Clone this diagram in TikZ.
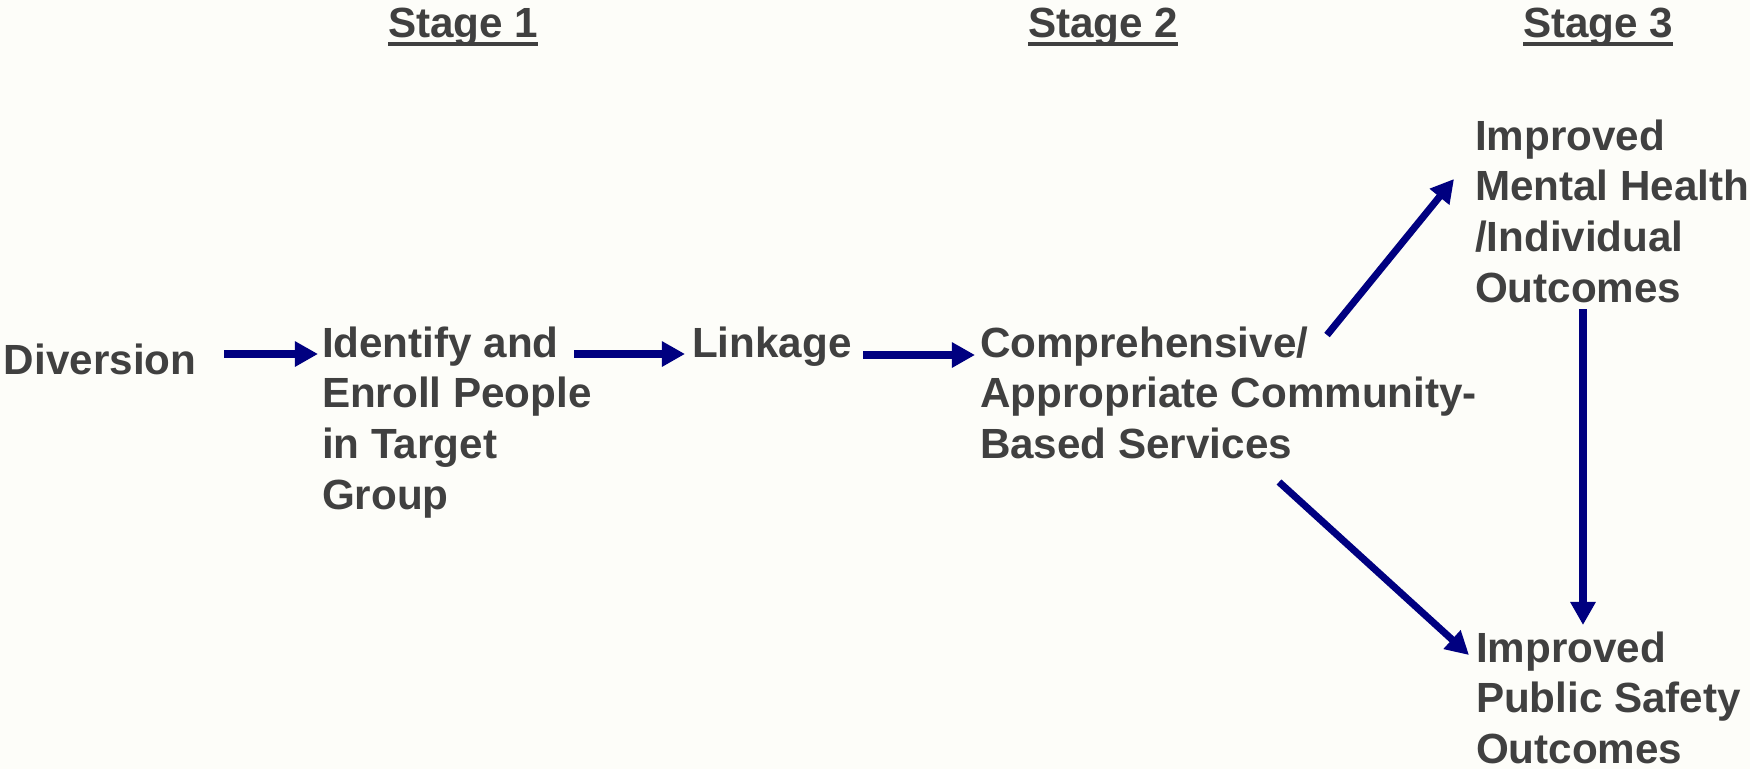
\documentclass[tikz,border=0pt]{standalone}
\usepackage{fontspec}
\setmainfont{Liberation Sans}
\usetikzlibrary{arrows.meta}
\definecolor{bg}{HTML}{FDFDF9}
\definecolor{txt}{HTML}{404040}
\definecolor{arrblue}{HTML}{000080}
\newcommand\firstbase[1]{\vtop{#1}}
\tikzset{
  lbl/.style={inner sep=0pt, outer sep=0pt, anchor=base west, text=txt,
    font=\fontsize{12}{14.45}\selectfont\bfseries},
  arr/.style={draw=arrblue, line width=2pt, -{Triangle[length=0.23cm,width=0.24cm]}},
  uline/.style={draw=txt, line width=1.1pt}
}
\begin{document}
\begin{tikzpicture}[x=0.01cm,y=-0.01cm]
\fill[bg] (0,0) rectangle (1750,769);
\useasboundingbox (0,0) rectangle (1750,769);
% stage headings
\node[lbl] (s1) at (388,37) {Stage 1};
\node[lbl] (s2) at (1028,37) {Stage 2};
\node[lbl] (s3) at (1523,37) {Stage 3};
\foreach \s in {s1,s2,s3}{
  \draw[uline] ([yshift=-7*0.01cm]\s.base west) -- ([yshift=-7*0.01cm]\s.base east);
}
% nodes
\node[lbl] (div) at (4,374) {Diversion};
\node[lbl] (ident) at (322,357) {\firstbase{\hbox{Identify and}\hbox{Enroll People}\hbox{in Target}\hbox{Group}}};
\node[lbl] (link) at (692,357) {Linkage};
\node[lbl] (comp) at (980,357) {\firstbase{\hbox{Comprehensive/}\hbox{Appropriate Community-}\hbox{Based Services}}};
\node[lbl] (mh) at (1475,150) {\firstbase{\hbox{Improved}\hbox{Mental Health}\hbox{/Individual}\hbox{Outcomes}}};
\node[lbl] (ps) at (1476,662) {\firstbase{\hbox{Improved}\hbox{Public Safety}\hbox{Outcomes}}};
% connectors
\draw[arr] ([shift={(28,-20)}]div.base east) -- ([shift={(-4,-3)}]ident.base west);
\draw[arr] ([shift={(252,-3)}]ident.base west) -- ([shift={(-7,-3)}]link.base west);
\draw[arr] ([shift={(12,-2)}]link.base east) -- ([shift={(-5,-2)}]comp.base west);
\draw[arr] ([shift={(347,-22)}]comp.base west) -- ([shift={(-21,29)}]mh.base west);
\draw[arr] ([shift={(299,125)}]comp.base west) -- ([shift={(-7,-7)}]ps.base west);
\draw[arr] ([shift={(108,159)}]mh.base west) -- ([shift={(107,-37)}]ps.base west);
\end{tikzpicture}
\end{document}
